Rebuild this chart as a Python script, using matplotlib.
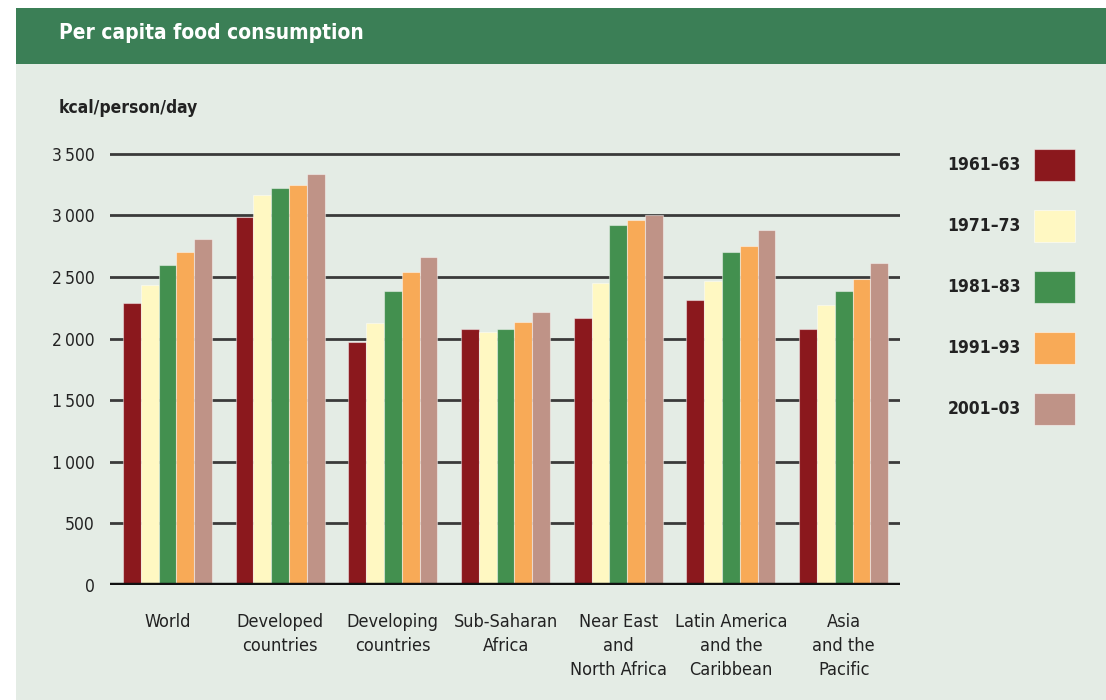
import matplotlib
matplotlib.use("Agg")
import matplotlib.pyplot as plt
from matplotlib.patches import Rectangle
import numpy as np

regions = ["World", "Developed\ncountries", "Developing\ncountries", "Sub-Saharan\nAfrica",
           "Near East\nand\nNorth Africa", "Latin America\nand the\nCaribbean", "Asia\nand the\nPacific"]
periods = ["1961\u201363", "1971\u201373", "1981\u201383", "1991\u201393", "2001\u201303"]
v1961 = [2285, 2990, 1975, 2075, 2165, 2315, 2075]
v1971 = [2435, 3165, 2125, 2050, 2450, 2465, 2275]
v1981 = [2600, 3225, 2390, 2075, 2920, 2705, 2390]
v1991 = [2705, 3245, 2540, 2135, 2960, 2750, 2480]
v2001 = [2810, 3335, 2660, 2215, 3000, 2885, 2615]
yticks = [0, 500, 1000, 1500, 2000, 2500, 3000, 3500]
ytick_labels = ["0", "500", "1\u2009000", "1\u2009500", "2\u2009000", "2\u2009500", "3\u2009000", "3\u2009500"]

series = [v1961, v1971, v1981, v1991, v2001]
colors = ["#8b181d", "#fff8c2", "#43904f", "#f8aa57", "#bf9387"]

plt.rcParams['font.family'] = ["DejaVu Sans"]
STRETCH = "condensed"

W, H = 1106, 700
fig = plt.figure(figsize=(W / 100, H / 100), dpi=100)
fig.patch.set_facecolor("white")

def fx(px): return px / W
def fy(py): return 1 - py / H

fig.patches.append(Rectangle((fx(16), 0), 1 - fx(16), fy(64), transform=fig.transFigure,
                             facecolor="#e4ece5", edgecolor="none", zorder=-2))
fig.patches.append(Rectangle((fx(16), fy(64)), 1 - fx(16), fy(8) - fy(64), transform=fig.transFigure,
                             facecolor="#3b7f56", edgecolor="none", zorder=-2))
fig.text(fx(59), fy(33), "Per capita food consumption", color="white", fontsize=15,
         fontweight="bold", va="center", ha="left", fontstretch=STRETCH)
fig.text(fx(59), fy(108), "kcal/person/day", color="#222222", fontsize=12.5,
         fontweight="bold", va="center", ha="left", fontstretch=STRETCH)

ymax = 3550
top_px = 585 - (ymax / 500) * 61.6
ax = fig.add_axes([fx(110), fy(585), fx(900) - fx(110), fy(top_px) - fy(585)])
ax.set_zorder(2)
ax.set_facecolor("none")
for s in ax.spines.values():
    s.set_visible(False)

x = np.arange(len(regions))
bw = 0.158
for i, (vals, c) in enumerate(zip(series, colors)):
    ax.bar(x + (i - 2) * bw, vals, width=bw, color=c, edgecolor=(1, 1, 1, 0.45),
           linewidth=0.8, zorder=2)

for t in yticks:
    if t == 0:
        ax.axhline(t, color="#111111", lw=3.2, zorder=3)
    else:
        ax.axhline(t, color="#3a3a3a", lw=2.0, zorder=1)

ax.set_xlim(-0.51, 6.5)
ax.set_ylim(0, ymax)
ax.set_yticks(yticks)
ax.set_yticklabels(ytick_labels, fontsize=12.5, color="#222222", fontstretch=STRETCH)
ax.set_xticks(x)
ax.set_xticklabels(regions, fontsize=13, color="#222222", linespacing=1.45, fontstretch=STRETCH)
ax.tick_params(axis="y", length=0, pad=11)
ax.tick_params(axis="x", length=0, pad=20)

for j, (p, c) in enumerate(zip(periods, colors)):
    yc = 165 + j * 61
    fig.patches.append(Rectangle((fx(1034), fy(yc + 16)), fx(1075) - fx(1034), fy(yc - 16) - fy(yc + 16),
                                 transform=fig.transFigure, facecolor=c, edgecolor=(1, 1, 1, 0.5),
                                 linewidth=0.8, zorder=2))
    fig.text(fx(1021), fy(yc), p, fontsize=12.5, fontweight="bold", color="#222222",
             ha="right", va="center", fontstretch=STRETCH)

fig.savefig("out.png", dpi=100, facecolor=fig.get_facecolor())
